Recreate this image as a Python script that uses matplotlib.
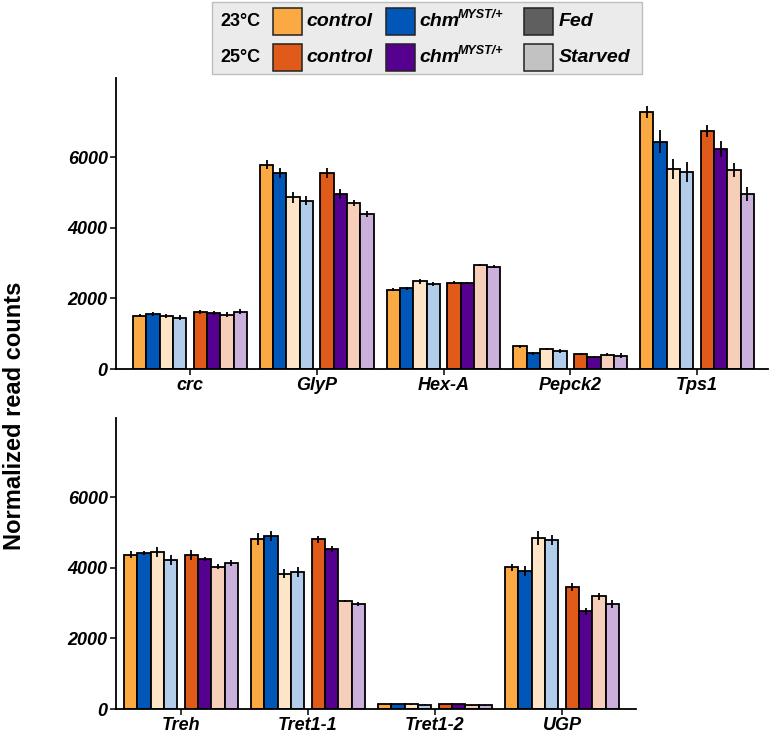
import numpy as np
import matplotlib.pyplot as plt
from matplotlib.patches import Rectangle

plt.rcParams['font.family'] = ['Liberation Sans', 'DejaVu Sans']

# bar order: 23C control fed, 23C chm fed, 23C control starved, 23C chm starved,
#            25C control fed, 25C chm fed, 25C control starved, 25C chm starved
genes_top = ['crc', 'GlyP', 'Hex-A', 'Pepck2', 'Tps1']
vals_top = [
    [1513, 1560, 1503, 1456, 1617, 1589, 1532, 1617],
    [5797, 5560, 4870, 4775, 5560, 4955, 4709, 4406],
    [2250, 2288, 2487, 2411, 2449, 2440, 2960, 2903],
    [643, 444, 567, 511, 426, 331, 407, 378],
    [7290, 6440, 5664, 5589, 6742, 6231, 5645, 4955],
]
err_top = [
    [50, 60, 50, 70, 60, 60, 70, 70],
    [130, 140, 160, 120, 140, 140, 95, 85],
    [40, 40, 70, 60, 40, 30, 30, 50],
    [40, 40, 30, 60, 25, 30, 40, 70],
    [170, 330, 290, 290, 170, 230, 190, 200],
]
genes_bot = ['Treh', 'Tret1-1', 'Tret1-2', 'UGP']
vals_bot = [
    [4376, 4423, 4460, 4216, 4366, 4254, 4038, 4132],
    [4817, 4911, 3840, 3878, 4808, 4535, 3061, 2977],
    [141, 141, 135, 125, 141, 141, 103, 103],
    [4019, 3916, 4836, 4780, 3456, 2770, 3193, 2977],
]
err_bot = [
    [90, 60, 140, 140, 140, 60, 60, 80],
    [170, 140, 130, 140, 90, 75, 40, 70],
    [10, 10, 10, 10, 10, 10, 10, 10],
    [100, 150, 200, 140, 120, 100, 90, 100],
]
colors = ['#FBAA43', '#0057B7', '#FEE5C7', '#B2CDEA',
          '#E05A1A', '#560090', '#F6CEBA', '#CBB0DC']

w = 0.105
g = 0.058
offs = [(-g / 2 - w * (3.5 - k)) for k in range(4)] + [(g / 2 + w * (k + 0.5)) for k in range(4)]


def draw(ax, genes, vals, errs, xlim):
    x = np.arange(len(genes))
    vals = np.array(vals)
    errs = np.array(errs)
    for k in range(8):
        ax.bar(x + offs[k], vals[:, k], width=w, color=colors[k],
               edgecolor='black', linewidth=1.3, zorder=2)
        ax.errorbar(x + offs[k], vals[:, k], yerr=errs[:, k], fmt='none',
                    ecolor='black', elinewidth=1.3, capsize=0, zorder=3)
    ax.set_xlim(*xlim)
    ax.set_ylim(0, 8250)
    ax.set_yticks([0, 2000, 4000, 6000])
    ax.set_xticks(x)
    ax.set_xticklabels(genes, fontsize=13, fontweight='bold', fontstyle='italic')
    for t in ax.get_yticklabels():
        t.set_fontsize(13)
        t.set_fontweight('bold')
        t.set_fontstyle('italic')
    for s in ['top', 'right']:
        ax.spines[s].set_visible(False)
    for s in ['left', 'bottom']:
        ax.spines[s].set_linewidth(1.3)
    ax.tick_params(length=4, width=1.1, pad=2)


W, H = 769, 733
fig = plt.figure(figsize=(W / 100, H / 100), dpi=100)

ax1 = fig.add_axes([116 / W, (H - 369) / H, (768 - 116) / W, 291 / H])
draw(ax1, genes_top, vals_top, err_top, (-0.584, 4.56))

ax2 = fig.add_axes([116 / W, (H - 709) / H, (636 - 116) / W, 291 / H])
draw(ax2, genes_bot, vals_bot, err_bot, (-0.512, 3.583))

fig.text(15 / W, 1 - 416 / H, 'Normalized read counts', rotation=90,
         ha='center', va='center', fontsize=17, fontweight='bold')

# legend box
fig.patches.append(Rectangle((212 / W, 1 - 74 / H), (642 - 212) / W, 72 / H,
                             transform=fig.transFigure, facecolor='#EBEBEB',
                             edgecolor='#BEBEBE', linewidth=1.0))
rows = [(21, '23°C', colors[0], colors[1], 'Fed', '#5F5F5F'),
        (57, '25°C', colors[4], colors[5], 'Starved', '#C2C2C2')]
for yc, temp, c1, c2, lab, c3 in rows:
    yf = 1 - yc / H
    fig.text(220 / W, yf, temp, ha='left', va='center', fontsize=13, fontweight='bold')
    for x0, c in [(273, c1), (386, c2), (524, c3)]:
        fig.patches.append(Rectangle((x0 / W, 1 - (yc + 13.5) / H), 29 / W, 27 / H,
                                     transform=fig.transFigure, facecolor=c,
                                     edgecolor='#222222', linewidth=1.1))
    fig.text(306 / W, yf, 'control', ha='left', va='center', fontsize=14,
             fontweight='bold', fontstyle='italic')
    fig.text(419 / W, yf, 'chm', ha='left', va='center', fontsize=14,
             fontweight='bold', fontstyle='italic')
    fig.text(458 / W, 1 - (yc - 6) / H, 'MYST/+', ha='left', va='center', fontsize=9,
             fontweight='bold', fontstyle='italic')
    fig.text(559 / W, yf, lab, ha='left', va='center', fontsize=14,
             fontweight='bold', fontstyle='italic')

fig.savefig('out.png', dpi=100)
